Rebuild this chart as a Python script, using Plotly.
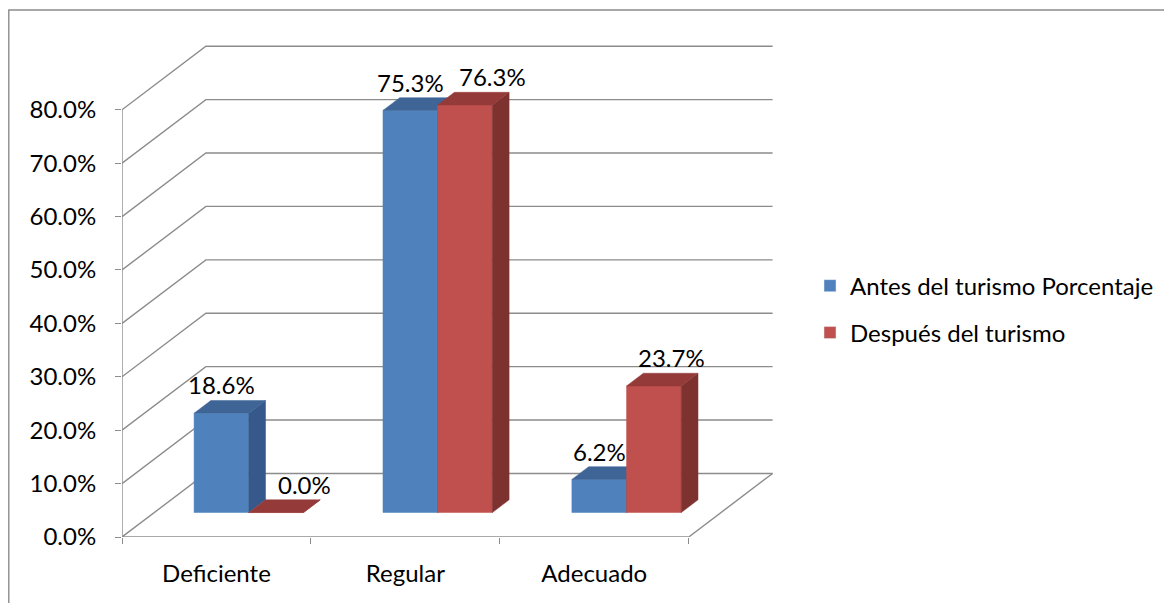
import plotly.graph_objects as go

# ---------------- data ----------------
categories = ["Deficiente", "Regular", "Adecuado"]
antes = [18.6, 75.3, 6.2]
despues = [0.0, 76.3, 23.7]
series_names = ["Antes del turismo Porcentaje", "Después del turismo"]
y_ticks = [0, 10, 20, 30, 40, 50, 60, 70, 80]

# ---------------- styling / geometry ----------------
FONT = "Lato"
FS = 24
GRID = "#8c8c8c"
FRONT = ["#4F81BD", "#C0504D"]
TOP = ["#3E6596", "#943B39"]
SIDE = ["#36588A", "#7E3230"]

DX, DY = 0.444, 11.9          # full depth offset (x units, % units)
BAR_F, BAR_D = 0.385, 0.2     # bar front depth fraction, bar depth fraction
GAP, W = 0.2106, 0.2894       # gap at each side of group, bar width (category units)
LABEL_XSHIFT = [[0, 0, 0], [28, 28, 18]]  # px, label offsets as in the original

fig = go.Figure()

# grid: left wall diagonals, back wall lines, floor
gx, gy = [], []
for v in y_ticks:
    gx += [0, DX, 3 + DX, None]
    gy += [v, v + DY, v + DY, None]
gx += [3, 3 + DX, None]
gy += [0, DY, None]
fig.add_trace(go.Scatter(x=gx, y=gy, mode="lines", line=dict(color=GRID, width=1.4),
                         hoverinfo="skip", showlegend=False))
# front axis lines
fig.add_trace(go.Scatter(x=[0, 0, None, 0, 3], y=[0, y_ticks[-1], None, 0, 0], mode="lines",
                         line=dict(color=GRID, width=1.4), hoverinfo="skip", showlegend=False))

bx = BAR_F * DX
by = BAR_F * DY
ddx = BAR_D * DX
ddy = BAR_D * DY

annotations = []
values = [antes, despues]
for i in range(len(categories)):
    for s in range(2):
        h = values[s][i]
        x0 = i + GAP + s * W + bx
        x1 = x0 + W
        b = by
        t = by + h
        # front face
        fig.add_trace(go.Scatter(x=[x0, x1, x1, x0, x0], y=[b, b, t, t, b], mode="lines",
                                 fill="toself", fillcolor=FRONT[s], line=dict(color=FRONT[s], width=0.5),
                                 hoverinfo="skip", showlegend=False))
        # side face
        fig.add_trace(go.Scatter(x=[x1, x1 + ddx, x1 + ddx, x1, x1], y=[b, b + ddy, t + ddy, t, b],
                                 mode="lines", fill="toself", fillcolor=SIDE[s],
                                 line=dict(color=SIDE[s], width=0.5), hoverinfo="skip", showlegend=False))
        # top face
        fig.add_trace(go.Scatter(x=[x0, x1, x1 + ddx, x0 + ddx, x0], y=[t, t, t + ddy, t + ddy, t],
                                 mode="lines", fill="toself", fillcolor=TOP[s],
                                 line=dict(color=TOP[s], width=0.5), hoverinfo="skip", showlegend=False))
        annotations.append(dict(x=(x0 + x1) / 2, y=t + ddy, xref="x", yref="y",
                                text=f"{h:.1f}%", showarrow=False, yanchor="bottom",
                                xshift=LABEL_XSHIFT[s][i], yshift=-1,
                                font=dict(family=FONT, size=FS, color="#000000")))

# legend entries
for s in range(2):
    fig.add_trace(go.Bar(x=[None], y=[None], name=series_names[s], marker_color=FRONT[s],
                         legend="legend" if s == 0 else "legend2"))

fig.update_layout(
    width=1164, height=595,
    margin=dict(l=114, r=396, t=35, b=66, autoexpand=False),
    paper_bgcolor="white", plot_bgcolor="white",
    font=dict(family=FONT, size=FS, color="#000000"),
    xaxis=dict(range=[0, 3.462], tickvals=[0.5, 1.5, 2.5], ticktext=categories, ticks="",
               showgrid=False, zeroline=False, showline=False, ticklabelstandoff=20,
               automargin=False,
               minor=dict(tickvals=[0, 1, 2, 3], ticks="outside", ticklen=6, tickcolor=GRID,
                          tickwidth=1.4, showgrid=False),
               tickfont=dict(family=FONT, size=FS)),
    yaxis=dict(range=[0, 92.5], tickvals=y_ticks, ticktext=[f"{v:.1f}%" for v in y_ticks],
               ticks="outside", ticklen=6, tickcolor=GRID, tickwidth=1.4, automargin=False,
               showgrid=False, zeroline=False, showline=False, ticklabelstandoff=14,
               tickfont=dict(family=FONT, size=FS)),
    legend=dict(x=1.052, y=0.508, xanchor="left", yanchor="middle", bgcolor="rgba(0,0,0,0)",
                font=dict(family=FONT, size=FS)),
    legend2=dict(x=1.052, y=0.413, xanchor="left", yanchor="middle", bgcolor="rgba(0,0,0,0)",
                 font=dict(family=FONT, size=FS)),
    annotations=annotations,
    shapes=[dict(type="rect", xref="paper", yref="paper", x0=-113.2 / 654, x1=2.0,
                 y0=-0.5, y1=(537 - 10) / 494, line=dict(color=GRID, width=1.4), layer="below")],
    showlegend=True,
)

fig.write_html("out.html")
